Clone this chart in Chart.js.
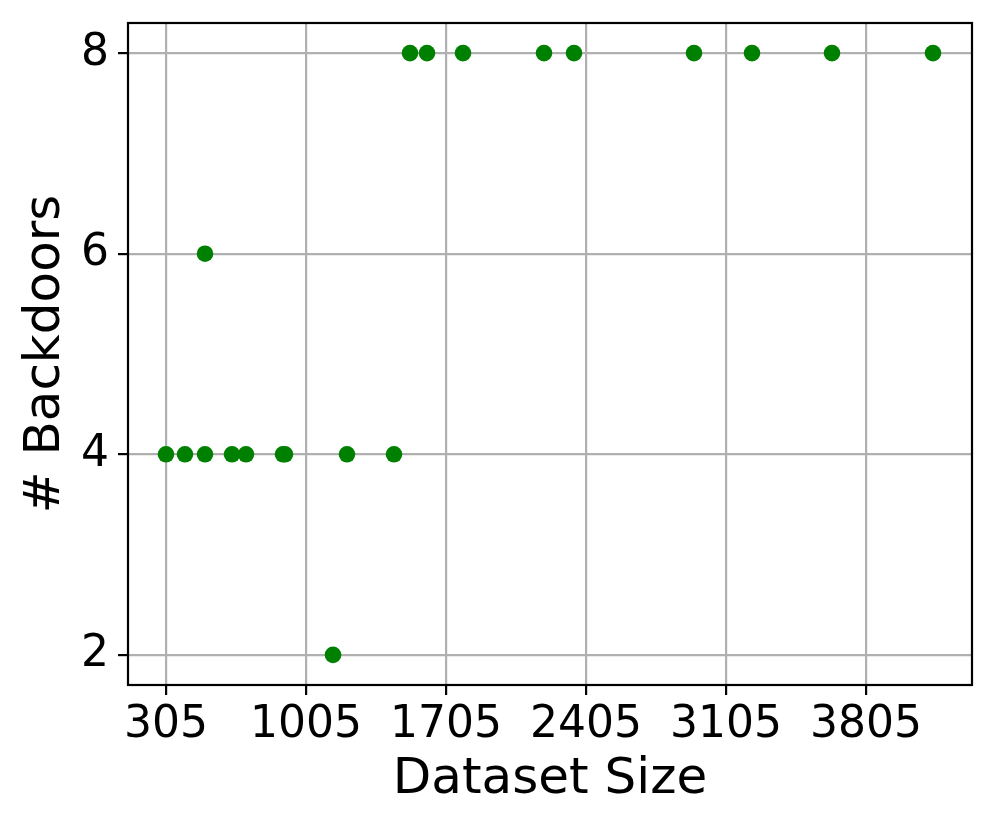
<!DOCTYPE html>
<html>
<head>
<meta charset="utf-8">
<script src="https://cdn.jsdelivr.net/npm/chart.js@4.4.0/dist/chart.umd.min.js"></script>
<style>
  html, body { margin: 0; padding: 0; background: #fff; }
  #wrap { width: 997px; height: 830px; position: relative; }
</style>
</head>
<body>
<div id="wrap"><canvas id="c" width="997" height="830"></canvas></div>
<script>
const datasetSizes = [305, 400, 500, 500, 635, 705, 890, 900, 1140, 1210, 1445, 1525, 1610, 1790, 2195, 2345, 2945, 3235, 3635, 4140];
const backdoors    = [4,   4,   4,   6,   4,   4,   4,   4,   2,    4,    4,    8,    8,    8,    8,    8,    8,    8,    8,    8];
const xTickValues = [305, 1005, 1705, 2405, 3105, 3805];
const yTickValues = [2, 4, 6, 8];

const points = datasetSizes.map((x, i) => ({ x: x, y: backdoors[i] }));

const frame = {
  id: 'frame',
  afterDatasetsDraw(chart) {
    const a = chart.chartArea, ctx = chart.ctx;
    ctx.save();
    ctx.strokeStyle = '#000';
    ctx.lineWidth = 2.2;
    ctx.strokeRect(a.left, a.top, a.right - a.left, a.bottom - a.top);
    ctx.restore();
  }
};

new Chart(document.getElementById('c'), {
  type: 'scatter',
  data: {
    datasets: [{
      data: points,
      backgroundColor: '#008000',
      borderColor: '#008000',
      borderWidth: 0,
      pointRadius: 8.3,
      pointHoverRadius: 8.3
    }]
  },
  options: {
    responsive: false,
    animation: false,
    events: [],
    layout: { padding: { top: 23, right: 25, left: 0, bottom: 0 } },
    plugins: { legend: { display: false }, tooltip: { enabled: false } },
    scales: {
      x: {
        type: 'linear',
        min: 115, max: 4335,
        afterBuildTicks(s) { s.ticks = xTickValues.map(v => ({ value: v })); },
        afterFit(s) { s.height = 145; },
        grid: { color: '#b0b0b0', lineWidth: 2.2, tickColor: '#000', tickLength: 10, tickWidth: 2.2, drawTicks: true },
        border: { display: false },
        ticks: { color: '#000', font: { family: 'DejaVu Sans', size: 44 }, padding: 4, maxRotation: 0, autoSkip: false,
                 callback: v => String(v) },
        title: { display: true, text: 'Dataset Size', color: '#000', font: { family: 'DejaVu Sans', size: 50 }, padding: { top: 0, bottom: 20 } }
      },
      y: {
        type: 'linear',
        min: 1.7, max: 8.3,
        afterBuildTicks(s) { s.ticks = yTickValues.map(v => ({ value: v })); },
        afterFit(s) { s.width = 128; },
        grid: { color: '#b0b0b0', lineWidth: 2.2, tickColor: '#000', tickLength: 10, tickWidth: 2.2, drawTicks: true },
        border: { display: false },
        ticks: { color: '#000', font: { family: 'DejaVu Sans', size: 44, lineHeight: 0.4 }, padding: 9, autoSkip: false,
                 callback: v => String(v) },
        title: { display: true, text: '# Backdoors', color: '#000', font: { family: 'DejaVu Sans', size: 50 }, padding: { top: 16, bottom: 0 } }
      }
    }
  },
  plugins: [frame]
});
</script>
</body>
</html>
